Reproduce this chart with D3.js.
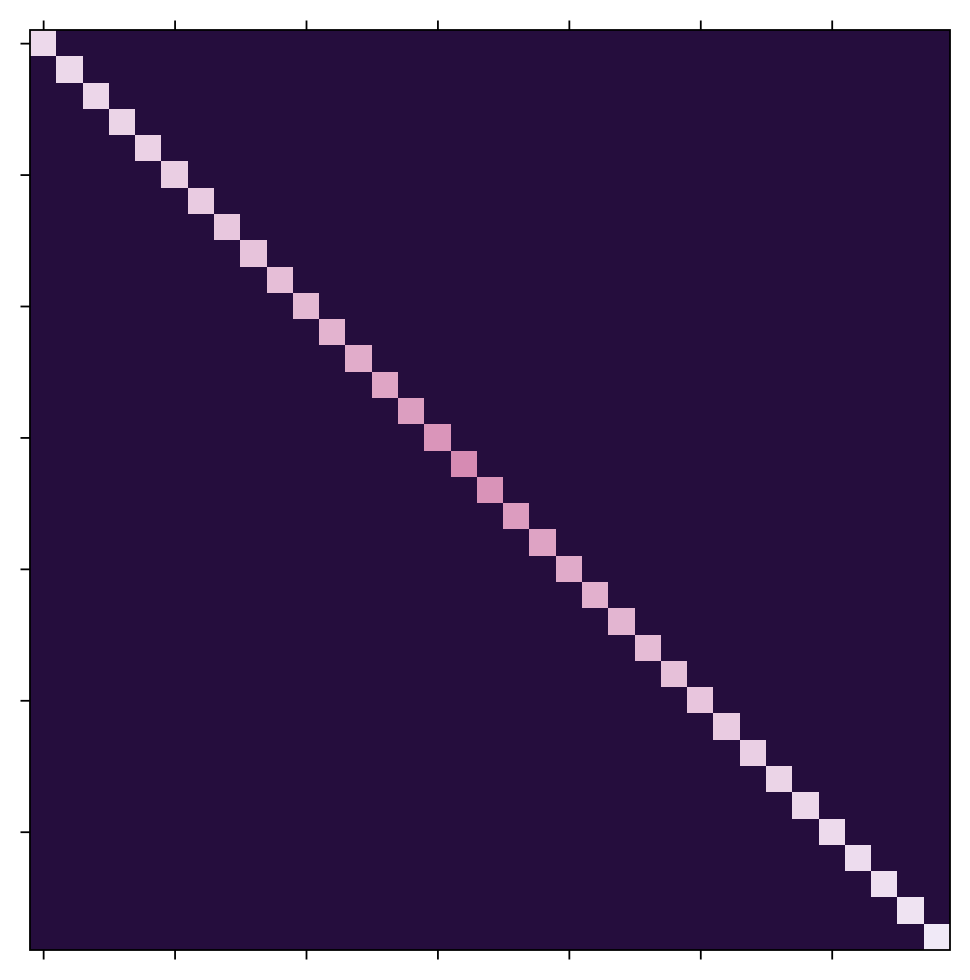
<!DOCTYPE html>
<html>
<head>
<meta charset="utf-8">
<script src="https://cdn.jsdelivr.net/npm/d3@7"></script>
<style>
  html, body { margin: 0; padding: 0; background: #ffffff; }
  svg { display: block; }
</style>
</head>
<body>
<svg id="chart" width="970" height="980"></svg>
<script>
// ---- data ----
const nRows = 35;
const indices = d3.range(nRows);
// diagonal values (off-diagonal cells are 0)
const diagValues = [
  0.965, 0.962, 0.958, 0.953, 0.947, 0.940, 0.933, 0.924, 0.915, 0.905,
  0.893, 0.880, 0.866, 0.850, 0.834, 0.815, 0.792, 0.810, 0.830, 0.846,
  0.860, 0.873, 0.886, 0.898, 0.910, 0.921, 0.933, 0.943, 0.953, 0.960,
  0.966, 0.972, 0.978, 0.986, 1.000
];
const tickValues = [0, 5, 10, 15, 20, 25, 30];

const cells = [];
indices.forEach(r => indices.forEach(c => {
  cells.push({ r, c, v: r === c ? diagValues[r] : 0 });
}));

// ---- layout ----
const mLeft = 30, mTop = 30, plotSize = 920;
const svg = d3.select("#chart");

const x = d3.scaleBand().domain(indices).range([mLeft, mLeft + plotSize]);
const y = d3.scaleBand().domain(indices).range([mTop, mTop + plotSize]);

const color = d3.scaleLinear()
  .domain([0, 0.79, 1])
  .range(["#250d3d", "#d68ab2", "#f0e9f7"])
  .interpolate(d3.interpolateLab);

svg.append("g")
  .selectAll("rect")
  .data(cells)
  .join("rect")
  .attr("x", d => x(d.c))
  .attr("y", d => y(d.r))
  .attr("width", x.bandwidth() + 0.3)
  .attr("height", y.bandwidth() + 0.3)
  .attr("fill", d => color(d.v))
  .attr("shape-rendering", "crispEdges");

// frame
svg.append("rect")
  .attr("x", mLeft).attr("y", mTop)
  .attr("width", plotSize).attr("height", plotSize)
  .attr("fill", "none").attr("stroke", "#000").attr("stroke-width", 1.8);

// ticks
const styleAxis = g => {
  g.select(".domain").remove();
  g.selectAll(".tick line").attr("stroke", "#000").attr("stroke-width", 1.8);
  g.selectAll(".tick text").remove();
};
const xs = d3.scalePoint().domain(indices).range([mLeft + x.bandwidth() / 2, mLeft + plotSize - x.bandwidth() / 2]);
const ys = d3.scalePoint().domain(indices).range([mTop + y.bandwidth() / 2, mTop + plotSize - y.bandwidth() / 2]);

svg.append("g").attr("transform", `translate(0,${mTop + plotSize})`)
  .call(d3.axisBottom(xs).tickValues(tickValues).tickSize(9.5).tickFormat(""))
  .call(styleAxis);
svg.append("g").attr("transform", `translate(0,${mTop})`)
  .call(d3.axisTop(xs).tickValues(tickValues).tickSize(9.5).tickFormat(""))
  .call(styleAxis);
svg.append("g").attr("transform", `translate(${mLeft},0)`)
  .call(d3.axisLeft(ys).tickValues(tickValues).tickSize(9.5).tickFormat(""))
  .call(styleAxis);
</script>
</body>
</html>
